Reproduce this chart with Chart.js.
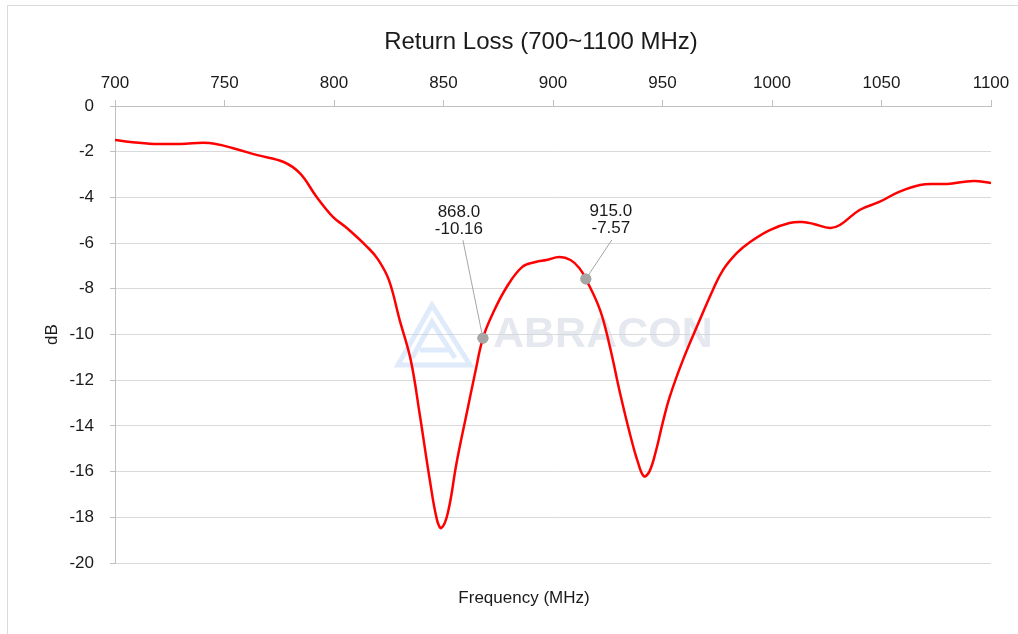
<!DOCTYPE html>
<html>
<head>
<meta charset="utf-8">
<script src="https://cdn.jsdelivr.net/npm/chart.js@4/dist/chart.umd.min.js"></script>
<style>
html,body{margin:0;padding:0;background:#fff;}
#wrap{width:1018px;height:634px;}
</style>
</head>
<body>
<div id="wrap"><canvas id="c" width="1018" height="634"></canvas></div>
<script>
const freqMHz = [700,707,718,730,743,754,765,777,784.5,792,799.5,806,815,820,825,830,835,839,843.8,847,849,852,856,860.7,864.4,868,872.6,879,886,892,897,903,908,912,915,921.5,926,930.6,935,938.8,941.5,944,947,950,953.4,959.4,967,973,977.6,984,990,999,1008,1014,1019,1026.5,1031,1040,1049,1058,1067.6,1075,1080,1092,1100];
const returnLossDb = [-1.49,-1.58,-1.66,-1.66,-1.62,-1.85,-2.15,-2.45,-2.95,-3.97,-4.85,-5.35,-6.15,-6.7,-7.6,-9.37,-11.1,-13.4,-16.4,-18.1,-18.47,-17.8,-15.6,-13.4,-11.7,-10.16,-9.06,-7.9,-7.04,-6.83,-6.74,-6.61,-6.74,-7.09,-7.57,-8.93,-10.55,-12.56,-14.3,-15.6,-16.2,-16.0,-15.1,-13.9,-12.7,-11.1,-9.37,-8.05,-7.18,-6.43,-5.95,-5.43,-5.12,-5.08,-5.16,-5.34,-5.21,-4.55,-4.2,-3.76,-3.46,-3.41,-3.41,-3.28,-3.37];
const markerFreq = [868, 915];
const markerDb = [-10.16, -7.57];
const xTicks = [700,750,800,850,900,950,1000,1050,1100];
const yTicks = [0,-2,-4,-6,-8,-10,-12,-14,-16,-18,-20];
const chartTitle = 'Return Loss (700~1100 MHz)';
const xAxisTitle = 'Frequency (MHz)';

const FONT = "'Liberation Sans', Arial, sans-serif";
// label offsets (style): [dx, dyLine1, dyLine2, leaderStartDx, leaderStartDy]
const labelOffsets = [[-24,-126,-109,-20,-98],[25,-68,-51,26,-39]];

const framePlugin = {
  id:'frame',
  beforeDraw(chart){
    const ctx = chart.ctx;
    ctx.save();
    ctx.fillStyle='#fff';
    ctx.fillRect(0,0,chart.width,chart.height);
    ctx.strokeStyle='#d9d9d9';
    ctx.lineWidth=1;
    ctx.beginPath();
    ctx.moveTo(7.5,chart.height);
    ctx.lineTo(7.5,5.5);
    ctx.lineTo(chart.width,5.5);
    ctx.stroke();
    ctx.fillStyle='#1a1a1a';
    ctx.textAlign='center';
    ctx.textBaseline='middle';
    ctx.font='24px '+FONT;
    ctx.fillText(chartTitle,541,42);
    ctx.font='17px '+FONT;
    ctx.fillText(xAxisTitle,524,598);
    ctx.restore();
  },
  beforeDatasetsDraw(chart){
    const ctx = chart.ctx;
    ctx.save();
    ctx.strokeStyle='rgba(175,205,245,0.4)';
    ctx.lineWidth=5;
    ctx.lineJoin='miter';
    ctx.beginPath();
    ctx.moveTo(398,365); ctx.lineTo(432,305); ctx.lineTo(470,365); ctx.closePath();
    ctx.stroke();
    ctx.beginPath();
    ctx.moveTo(412,358); ctx.lineTo(432,322); ctx.lineTo(455,358);
    ctx.moveTo(420,350); ctx.lineTo(448,350);
    ctx.stroke();
    ctx.fillStyle='rgba(210,214,228,0.55)';
    ctx.font='bold 43px '+FONT;
    ctx.textAlign='left';
    ctx.textBaseline='middle';
    ctx.fillText('ABRACON',493,335);
    ctx.restore();
  },
  afterDatasetsDraw(chart){
    const ctx = chart.ctx;
    const xs = chart.scales.x, ys = chart.scales.y;
    ctx.save();
    ctx.font='17px '+FONT;
    ctx.fillStyle='#1a1a1a';
    ctx.textAlign='center';
    ctx.textBaseline='middle';
    markerFreq.forEach((f,i)=>{
      const px = xs.getPixelForValue(f), py = ys.getPixelForValue(markerDb[i]);
      const o = labelOffsets[i];
      ctx.strokeStyle='#a6a6a6';
      ctx.lineWidth=1;
      ctx.beginPath();
      ctx.moveTo(px+o[3],py+o[4]);
      ctx.lineTo(px,py);
      ctx.stroke();
      ctx.fillText(f.toFixed(1),px+o[0],py+o[1]);
      ctx.fillText(markerDb[i].toFixed(2),px+o[0],py+o[2]);
    });
    markerFreq.forEach((f,i)=>{
      const px = xs.getPixelForValue(f), py = ys.getPixelForValue(markerDb[i]);
      ctx.fillStyle='#a6a6a6';
      ctx.beginPath(); ctx.arc(px,py,5.5,0,Math.PI*2); ctx.fill();
    });
    ctx.restore();
  }
};

new Chart(document.getElementById('c'),{
  type:'line',
  data:{
    datasets:[
      {
        label:'Return Loss',
        data: freqMHz.map((f,i)=>({x:f,y:returnLossDb[i]})),
        borderColor:'#ff0000',
        borderWidth:2.5,
        pointRadius:0,
        tension:0.4,
        fill:false
      },
      {
        label:'Markers',
        data: markerFreq.map((f,i)=>({x:f,y:markerDb[i]})),
        showLine:false,
        pointRadius:5.5,
        pointBackgroundColor:'#a6a6a6',
        pointBorderWidth:0
      }
    ]
  },
  options:{
    responsive:false,
    animation:false,
    devicePixelRatio:1,
    layout:{padding:{left:38,right:27,top:65,bottom:71}},
    plugins:{
      legend:{display:false},
      tooltip:{enabled:false},
      title:{display:false},
      subtitle:{display:false}
    },
    scales:{
      x:{
        type:'linear',position:'top',min:700,max:1100,
        afterBuildTicks(s){ s.ticks = xTicks.map(v=>({value:v})); },
        afterFit(s){ s.height = 41; },
        ticks:{color:'#1a1a1a',font:{family:FONT,size:17},padding:6,maxRotation:0,callback:v=>String(v)},
        grid:{drawOnChartArea:false,drawTicks:true,tickLength:6,color:'#bfbfbf'},
        border:{color:'#bfbfbf'}
      },
      y:{
        type:'linear',min:-20,max:0,
        afterBuildTicks(s){ s.ticks = yTicks.map(v=>({value:v})); },
        afterFit(s){ s.width = 77; },
        title:{display:true,text:'dB',color:'#1a1a1a',font:{family:FONT,size:17}},
        ticks:{color:'#1a1a1a',font:{family:FONT,size:17},padding:16,callback:v=>String(v)},
        grid:{color:'#d9d9d9',drawTicks:true,tickLength:5,tickColor:'#bfbfbf'},
        border:{color:'#bfbfbf'}
      }
    }
  },
  plugins:[framePlugin]
});
</script>
</body>
</html>
